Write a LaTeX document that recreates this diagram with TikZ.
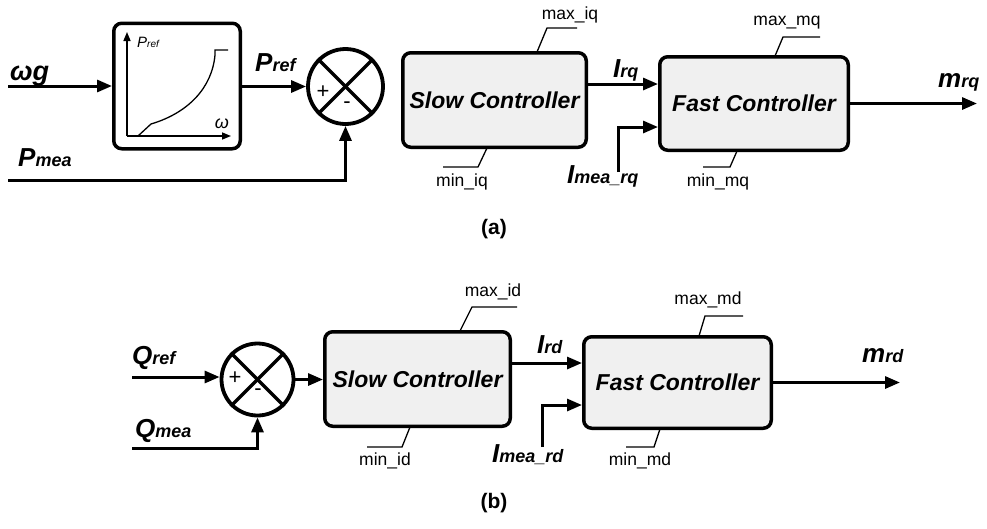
\documentclass[tikz,border=0pt]{standalone}
\usepackage{fontspec}
\setmainfont{Liberation Sans}
\usetikzlibrary{arrows.meta}
\newcommand{\siglab}[2]{{\fontsize{26}{26}\selectfont\bfseries\itshape #1\fontsize{18}{18}\selectfont #2}}
\begin{document}
\begin{tikzpicture}[x=1pt,y=-1pt,
  ctrl/.style={draw, line width=3.5pt, rounded corners=8pt, fill=black!6, inner sep=0pt, font=\fontsize{23}{23}\selectfont\bfseries\itshape},
  mapbox/.style={draw, line width=3.5pt, rounded corners=8pt, fill=white, inner sep=0pt},
  sumnode/.style={draw, circle, line width=3.8pt, inner sep=0pt, fill=white},
  sigline/.style={line width=3pt, -{Triangle[length=15pt,width=12pt]}},
  xline/.style={line width=3.5pt},
  lim/.style={line width=1.3pt},
  limlab/.style={font=\fontsize{17.5}{17.5}\selectfont, inner sep=0pt},
  biglab/.style={anchor=base west, inner sep=0pt},
  pmlab/.style={font=\fontsize{22}{22}\selectfont, inner sep=0pt},
  capt/.style={font=\fontsize{21}{21}\selectfont\bfseries, inner sep=0pt}]
\useasboundingbox (0,0) rectangle (987,528);

% ---------------- (a) ----------------
\node[mapbox, minimum width=126.5pt, minimum height=125.5pt] (cb) at (177,86) {};
\node[sumnode, minimum size=75pt] (sumA) at (345.5,86.5) {};
\node[ctrl, minimum width=183.5pt, minimum height=94.5pt] (slowA) at (494.5,100) {Slow Controller};
\node[ctrl, minimum width=188.5pt, minimum height=93.5pt] (fastA) at (754,103.5) {Fast Controller};

% curve inside the map block
\draw[line width=1.5pt, -{Triangle[length=9pt,width=7pt]}] (127,136) -- (127,32);
\draw[line width=1.5pt, -{Triangle[length=9pt,width=7pt]}] (127,136) -- (231,136);
\draw[line width=1.3pt] (138,136) -- (151,124) .. controls (188,113) and (212,88) .. (215,55) -- (215,50) -- (228,50);
\node[anchor=base west, inner sep=0pt] (pin) at (137,47) {\fontsize{15}{15}\selectfont\itshape P\fontsize{10}{10}\selectfont ref};
\node[inner sep=0pt] (win) at (222,124) {\fontsize{18}{18}\selectfont\itshape ω};

% summing junction (a)
\draw[xline] (sumA.north east) -- (sumA.south west);
\draw[xline] (sumA.north west) -- (sumA.south east);
\node[pmlab] (plA) at (323,92.5) {+};
\node[pmlab] (mnA) at (347,105) {-};

% signals (a)
\coordinate (wg) at (8,86);
\coordinate (pm) at (8,180);
\coordinate (irq) at (0,84);
\coordinate (imq) at (618,172);
\coordinate (imqt) at (0,127);
\coordinate (mrq) at (977,103.5);
\draw[sigline] (wg) -- (wg -| cb.west);
\draw[sigline] (cb.east |- sumA.west) -- (sumA.west);
\draw[sigline] (pm) -| (sumA.south);
\draw[sigline] (slowA.east |- irq) -- (fastA.west |- irq);
\draw[sigline] (imq) |- (fastA.west |- imqt);
\draw[sigline] (fastA.east) -- (mrq);

\node[biglab] (lwg) at (10,80) {\fontsize{27}{27}\selectfont\bfseries\itshape ωg};
\node[biglab] (lpref) at (255,71) {\siglab{P}{ref}};
\node[biglab] (lpmea) at (18,166) {\siglab{P}{mea}};
\node[biglab] (lirq) at (613,77) {\siglab{I}{rq}};
\node[biglab] (limq) at (567,183) {\siglab{I}{mea\_rq}};
\node[biglab] (lmrq) at (938,87) {\siglab{m}{rq}};

% limits (a)
\draw[lim] (537,52) -- (547,28) -- (577,28);
\node[limlab] (maxiq) at (570,15) {max\_iq};
\draw[lim] (487,148) -- (478,167) -- (443,167);
\node[limlab] (miniq) at (462,182) {min\_iq};
\draw[lim] (775,56) -- (783,37) -- (820,37);
\node[limlab] (maxmq) at (787,23) {max\_mq};
\draw[lim] (737,151) -- (730,167) -- (703,167);
\node[limlab] (minmq) at (718,182) {min\_mq};

\node[capt] (capa) at (494,229) {(a)};

% ---------------- (b) ----------------
\node[sumnode, minimum size=72pt] (sumB) at (257.5,379.5) {};
\node[ctrl, minimum width=185.5pt, minimum height=94.5pt] (slowB) at (417.5,379) {Slow Controller};
\node[ctrl, minimum width=187.5pt, minimum height=91.5pt] (fastB) at (677.5,382.5) {Fast Controller};

\draw[xline] (sumB.north east) -- (sumB.south west);
\draw[xline] (sumB.north west) -- (sumB.south east);
\node[pmlab] (plB) at (235,378.5) {+};
\node[pmlab] (mnB) at (258,392) {-};

\coordinate (qr) at (132,377);
\coordinate (qm) at (132,448);
\coordinate (ird) at (0,363);
\coordinate (imd) at (542,447);
\coordinate (imdt) at (0,405);
\coordinate (mrd) at (900,382.5);
\draw[sigline] (qr) -- (qr -| sumB.west);
\draw[sigline] (qm) -| (sumB.south);
\draw[sigline] (sumB.east) -- (slowB.west |- sumB.east);
\draw[sigline] (slowB.east |- ird) -- (fastB.west |- ird);
\draw[sigline] (imd) |- (fastB.west |- imdt);
\draw[sigline] (fastB.east) -- (mrd);

\node[biglab] (lqref) at (132,364) {\siglab{Q}{ref}};
\node[biglab] (lqmea) at (135,437) {\siglab{Q}{mea}};
\node[biglab] (lird) at (537,353) {\siglab{I}{rd}};
\node[biglab] (limd) at (492,462) {\siglab{I}{mea\_rd}};
\node[biglab] (lmrd) at (862,362) {\siglab{m}{rd}};

\draw[lim] (460,331) -- (472,307) -- (517,307);
\node[limlab] (maxid) at (493,292) {max\_id};
\draw[lim] (410,427) -- (402,447) -- (367,447);
\node[limlab] (minid) at (385,461) {min\_id};
\draw[lim] (699,336) -- (705,316) -- (743,316);
\node[limlab] (maxmd) at (708,300) {max\_md};
\draw[lim] (660,429) -- (654,447) -- (626,447);
\node[limlab] (minmd) at (640,461) {min\_md};

\node[capt] (capb) at (494,503) {(b)};
\end{tikzpicture}
\end{document}
